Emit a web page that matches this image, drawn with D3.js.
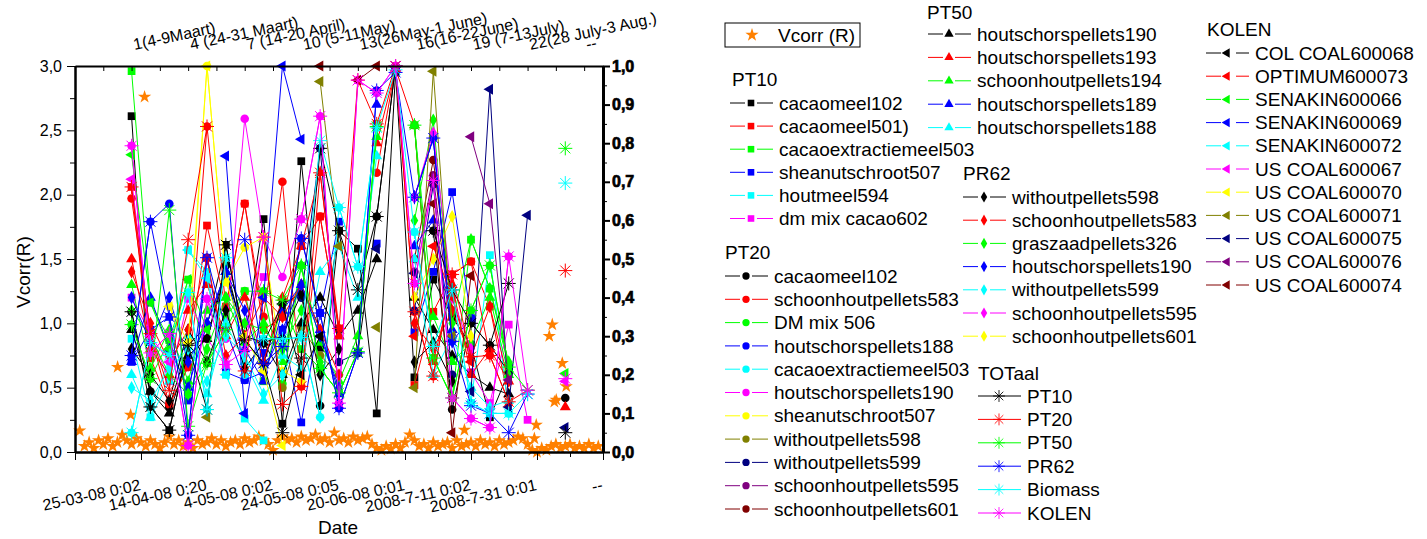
<!DOCTYPE html>
<html lang="en">
<head>
<meta charset="UTF-8">
<title>Vcorr(R) per week</title>
<script src="https://d3js.org/d3.v7.min.js"></script>
<style>
    body { margin: 0; background: #fff; }
    svg text { font-family: "Liberation Sans", Arial, sans-serif; fill: #000; }
    .tick line { stroke: #000; }
    .domain { stroke: #000; }
</style>
</head>
<body>
<svg width="1427" height="539"></svg>
<script>
const _ = null;

// x categories: week numbers (top axis) and date ticks (bottom axis)
const weeks = [1,2,3,4,5,6,7,8,9,10,11,12,13,14,15,16,17,18,19,20,21,22,23,24];
const weekTicks = [-2,-0.5,1,2.5,4,5.5,7,8.5,10,11.5,13,14.5,16,17.5,19,20.5,22,23.5,25];
const weekLabelAt = [1,4,7,10,13,16,19,22,25];
const weekLabels = ["1(4-9Maart)","4 (24-31 Maart)","7 (14-20 April)","10 (5-11May)","13(26May-1 June)",
    "16(16-22June)","19 (7-13July)","22(28 July-3 Aug.)","--"];
const dateMajor = [0,2,4,6,8,10,12,14,16];
const dateLabels = ["","25-03-08 0:02","14-04-08 0:20","4-05-08 0:02","24-05-08 0:05","20-06-08 0:01",
    "2008-7-11 0:02","2008-7-31 0:01","--"];
const dateMinor = [1,3,5,7,9,11,13,15];
const leftTicks = [0,0.5,1,1.5,2,2.5,3];
const rightTicks = [0,0.1,0.2,0.3,0.4,0.5,0.6,0.7,0.8,0.9,1];

// Vcorr (R) on the right axis: [week, value]
const vcorr = [
    [-1.75,0.055],[-1.5,0.015],[-1.25,0.025],[-1,0.01],[-0.75,0.03],[-0.5,0.02],[-0.25,0.035],[0,0.015],
    [0.25,0.025],[0.26,0.22],[0.5,0.044],[0.75,0.03],[0.95,0.096],[1,0.02],[1.25,0.035],[1.5,0.025],[1.69,0.92],
    [1.75,0.015],[2,0.03],[2.25,0.02],[2.5,0.01],[2.75,0.025],[3,0.04],[3.25,0.02],[3.5,0.03],[3.75,0.015],
    [4,0.025],[4.25,0.01],[4.5,0.03],[4.75,0.02],[5,0.025],[5.25,0.035],[5.5,0.02],[5.75,0.03],[6,0.015],
    [6.25,0.025],[6.5,0.03],[6.75,0.02],[7,0.035],[7.25,0.025],[7.5,0.03],[7.75,0.04],[8,0.03],[8.25,0.02],
    [8.5,0.005],[8.75,0.03],[9,0.04],[9.25,0.03],[9.5,0.035],[9.75,0.025],[10,0.04],[10.25,0.03],[10.5,0.035],
    [10.75,0.045],[11,0.03],[11.25,0.035],[11.5,0.025],[11.75,0.05],[12,0.03],[12.25,0.035],[12.5,0.025],
    [12.75,0.04],[13,0.03],[13.25,0.035],[13.5,0.04],[13.75,0.02],[14,0.01],[14.25,0.005],[14.5,0.015],
    [14.75,0.008],[15,0.02],[15.25,0.01],[15.5,0.025],[15.75,0.045],[16,0.03],[16.25,0.015],[16.5,0.02],
    [16.75,0.01],[17,0.025],[17.25,0.015],[17.5,0.02],[17.75,0.025],[18,0.01],[18.25,0.03],[18.5,0.015],
    [18.65,0.057],[18.75,0.02],[19,0.025],[19.25,0.015],[19.5,0.03],[19.75,0.02],[20,0.025],[20.25,0.015],
    [20.5,0.03],[20.75,0.02],[21,0.025],[21.25,0.03],[21.5,0.04],[21.75,0.035],[22,0.02],[22.25,0.005],
    [22.36,0.035],[22.46,0.07],[22.5,0],[22.75,0.01],[23,0.005],[23.15,0.3],[23.31,0.33],[23.42,0.13],
    [23.52,0.135],[23.84,0.23],[24.05,0.17],[23.25,0.015],[23.5,0.02],[23.75,0.01],[24,0.015],[24.25,0.02],
    [24.5,0.01],[24.75,0.015],[25,0.01],[25.25,0.02],[25.5,0.01],[25.75,0.015]
];

// PT10 (squares)
const pt10Names = ["cacaomeel102","cacaomeel501)","cacaoextractiemeel503","sheanutschroot507","houtmeel594","dm mix cacao602"];
const pt10Colors = ["#000000","#FF0000","#00FF00","#0000FF","#00FFFF","#FF00FF"];
const pt10Data = [
    [2.61,0.35,0.17,0.83,0.98,1.61,0.87,1.81,0.22,2.26,0.81,1.72,1.58,0.30,2.95,0.58,1.34,1.05,0.83,0.27,0.62,_,_,_],
    [2.06,0.73,0.37,0.66,1.76,1.13,1.93,0.95,1.05,1.60,1.83,0.96,_,2.55,_,0.52,1.09,1.38,1.48,1.13,0.39,_,_,_],
    [2.96,1.16,0.87,1.34,0.69,1.05,1.25,0.55,1.18,0.80,0.65,0.46,0.78,2.53,_,2.54,0.73,0.42,1.65,1.27,0.66,_,_,_],
    [0.70,0.95,1.05,0.40,1.51,0.62,0.56,0.77,0.95,0.23,1.08,1.79,_,1.62,_,0.93,1.40,2.02,1.04,_,_,_,_,_],
    [0.88,0.27,0.75,1.57,1.40,0.60,0.26,0.09,_,_,_,_,_,_,_,_,_,_,0.38,1.53,0.30,_,_,_],
    [1.20,0.92,0.55,1.19,0.88,0.68,1.00,1.36,_,_,_,_,_,_,_,_,_,_,0.62,0.38,0.99,0.25,_,_]
];

// PT20 (circles)
const pt20Names = ["cacaomeel102","schoonhoutpellets583","DM mix 506","houtschorspellets188","cacaoextractiemeel503",
    "houtschorspellets190","sheanutschroot507","withoutpellets598","withoutpellets599","schoonhoutpellets595","schoonhoutpellets601"];
const pt20Colors = ["#000000","#FF0000","#00FF00","#0000FF","#00FFFF","#FF00FF","#FFFF00","#808000","#000080","#800080","#800000"];
const pt20Data = [
    [1.09,0.47,0.35,0.83,0.88,1.45,0.87,0.69,1.15,1.23,0.36,1.72,0.77,1.83,3.00,_,1.72,0.33,1.00,0.83,0.62,_,_,0.42],
    [1.97,0.92,0.37,0.66,2.53,1.13,1.93,1.05,2.10,0.51,1.83,0.96,_,2.17,3.00,1.09,0.59,1.38,1.48,0.75,0.39,_,_,_],
    [0.99,0.57,0.87,0.45,0.69,0.95,1.25,1.25,0.53,1.45,0.65,0.46,0.78,2.53,_,2.54,0.73,0.42,1.10,1.45,0.66,_,_,_],
    [0.75,1.79,1.93,0.13,1.51,0.95,0.56,0.62,0.82,1.66,1.08,0.34,0.77,2.81,_,1.98,2.44,0.86,1.04,_,_,_,_,_],
    [0.15,0.85,0.75,1.24,0.33,1.51,0.60,0.88,0.88,0.89,0.27,1.90,1.44,2.52,_,1.71,0.82,1.26,0.38,0.30,0.30,_,_,_],
    [2.38,0.77,0.92,0.05,1.19,0.88,2.59,1.67,1.36,1.81,2.61,0.38,2.89,2.79,3.00,1.31,2.11,0.42,0.26,0.19,1.52,_,_,_],
    [_,_,1.13,0.75,3.00,1.32,1.59,1.67,0.63,0.55,_,_,_,_,_,_,_,_,_,_,_,_,_,_],
    [_,_,_,_,_,_,_,_,0.50,0.97,0.75,0.60,_,_,_,_,_,_,_,_,_,_,_,_],
    [_,_,_,_,_,_,_,_,_,1.20,2.36,0.70,0.77,_,_,1.10,2.08,0.60,_,_,_,_,_,_],
    [_,_,_,_,_,_,_,_,_,_,_,_,_,_,_,1.40,2.15,0.90,_,_,_,_,_,_],
    [_,_,_,_,_,_,_,_,_,_,_,_,_,_,_,1.50,2.27,1.10,_,_,_,_,_,_]
];

// PT50 (triangles)
const pt50Names = ["houtschorspellets190","houtschorspellets193","schoonhoutpellets194","houtschorspellets189","houtschorspellets188"];
const pt50Colors = ["#000000","#FF0000","#00FF00","#0000FF","#00FFFF"];
const pt50Data = [
    [0.95,0.47,0.30,0.75,0.88,1.40,0.90,0.85,0.60,1.00,1.20,0.90,1.10,1.50,_,1.20,0.95,0.75,0.60,0.50,0.45,_,_,_],
    [1.50,0.80,0.60,1.10,1.30,0.90,1.20,0.70,1.20,1.60,2.17,0.90,_,2.40,2.98,2.54,0.70,1.30,0.60,0.80,0.55,_,_,0.35],
    [1.30,0.65,0.95,0.55,1.10,1.20,0.85,1.00,0.70,1.45,0.85,0.55,0.90,2.45,_,2.54,1.05,0.70,0.85,1.20,0.60,_,_,_],
    [0.70,1.20,0.80,0.50,1.00,1.40,0.80,0.55,1.10,1.30,0.95,0.45,_,2.70,_,1.60,1.80,0.95,_,_,_,_,_,_],
    [0.60,0.27,0.55,0.90,0.45,1.00,0.70,0.40,0.75,0.65,1.40,1.60,1.20,2.30,_,1.50,0.60,0.90,0.50,0.35,0.40,_,_,_]
];

// PR62 (diamonds)
const pr62Names = ["withoutpellets598","schoonhoutpellets583","graszaadpellets326","houtschorspellets190",
    "withoutpellets599","schoonhoutpellets595","schoonhoutpellets601"];
const pr62Colors = ["#000000","#FF0000","#00FF00","#0000FF","#00FFFF","#FF00FF","#FFFF00"];
const pr62Data = [
    [0.80,0.60,0.40,0.95,0.70,1.10,0.65,0.85,0.90,1.23,0.60,0.80,_,_,_,0.70,0.85,0.55,_,_,_,_,_,_],
    [1.40,1.00,0.70,0.95,1.50,0.75,0.90,1.20,1.05,1.30,0.95,0.60,_,_,_,1.00,0.80,1.10,0.74,1.13,0.55,_,_,_],
    [1.10,0.90,0.60,0.45,0.80,1.20,1.00,0.95,0.80,1.10,0.70,_,_,_,_,1.80,2.58,1.00,1.65,1.27,0.70,_,_,_],
    [1.20,0.85,1.20,0.70,1.00,1.40,1.10,0.62,0.95,1.30,0.90,0.50,_,_,_,1.98,2.44,0.86,_,_,_,_,_,_],
    [0.50,0.40,0.65,0.80,0.55,0.90,0.75,0.45,0.60,0.90,0.27,_,_,_,_,_,_,_,_,_,_,_,_,_],
    [_,_,_,_,_,_,_,_,_,_,_,_,_,_,_,1.98,2.48,1.20,0.80,_,_,_,_,_],
    [_,_,_,_,_,_,_,_,_,_,_,_,_,_,_,1.20,1.50,1.83,0.90,_,_,_,_,_]
];

// TOTaal (asterisks)
const totNames = ["PT10","PT20","PT50","PR62","Biomass","KOLEN"];
const totColors = ["#000000","#FF0000","#00FF00","#0000FF","#00FFFF","#FF00FF"];
const totData = [
    [1.09,0.35,0.17,0.83,0.33,1.61,0.87,0.69,0.15,0.73,2.36,1.72,1.26,1.83,3.00,_,1.72,1.26,1.00,0.83,1.31,_,_,0.15],
    [2.06,0.92,0.48,1.65,2.53,_,0.63,1.67,0.37,0.51,2.17,0.96,2.89,2.55,3.00,1.09,0.59,1.38,0.74,0.75,0.39,0.48,_,1.41],
    [0.99,0.57,1.88,0.20,0.69,0.95,_,1.25,1.18,1.45,0.65,0.46,0.78,2.53,_,2.54,0.73,0.42,1.10,1.45,0.66,0.48,_,2.36],
    [0.75,1.79,1.05,0.13,1.51,_,1.65,0.69,0.82,1.66,1.08,0.34,0.77,2.81,2.95,1.98,2.44,0.86,0.36,0.30,0.15,0.45,_,_],
    [0.15,0.85,0.75,1.24,0.33,1.51,_,0.88,0.88,0.89,2.42,1.90,1.44,2.52,2.97,1.71,0.82,1.26,0.38,0.30,0.30,0.45,_,2.09],
    [2.38,0.77,0.92,0.05,1.19,0.68,0.79,1.67,_,1.81,2.61,0.38,2.89,2.79,3.00,1.31,2.11,0.42,0.26,0.19,1.52,0.48,_,0.57]
];

// KOLEN (left triangles)
const kolNames = ["COL COAL600068","OPTIMUM600073","SENAKIN600066","SENAKIN600069","SENAKIN600072","US COAL600067",
    "US COAL600070","US COAL600071","US COAL600075","US COAL600076","US COAL600074"];
const kolColors = ["#000000","#FF0000","#00FF00","#0000FF","#00FFFF","#FF00FF","#FFFF00","#808000","#000080","#800080","#800000"];
const kolData = [
    [_,_,_,_,_,_,_,0.85,1.15,0.60,0.90,_,_,_,_,_,_,_,_,_,_,_,_,_],
    [_,_,_,_,_,_,_,_,_,_,_,_,_,_,_,0.90,1.60,1.20,0.70,_,_,_,_,_],
    [2.31,1.16,0.80,1.34,0.95,_,_,_,_,_,_,_,_,_,_,_,_,_,_,_,_,_,_,0.61],
    [_,_,_,_,_,2.30,0.30,1.20,3.00,2.43,_,_,_,_,_,_,_,_,_,_,_,_,_,_],
    [_,_,_,1.57,1.35,0.60,_,_,_,_,_,_,_,_,_,_,_,_,_,_,_,_,_,_],
    [2.12,0.90,0.70,_,_,_,_,_,_,_,_,_,_,_,_,_,_,_,_,_,_,_,_,0.55],
    [_,_,1.13,0.85,3.00,1.32,0.90,0.63,0.05,_,_,_,_,_,_,_,_,_,_,_,_,_,_,_],
    [_,_,_,_,0.27,_,_,_,_,_,2.88,1.60,_,0.97,_,0.50,2.96,0.90,_,_,_,_,_,_],
    [_,_,_,_,_,_,_,_,_,_,_,_,_,1.58,_,1.39,_,_,0.47,2.82,0.35,1.84,_,0.19],
    [_,_,_,_,_,_,_,_,_,_,_,_,_,_,_,_,_,_,2.45,1.93,0.56,_,_,_],
    [_,_,_,_,_,_,_,_,_,_,3.00,_,2.89,3.00,_,_,1.93,0.15,1.37,_,_,_,_,_]
];

const svg = d3.select("svg");
const xTop = d3.scaleLinear().domain([-2, 26]).range([75, 603]);
const xBot = d3.scaleLinear().domain([0, 16]).range([75, 603]);
const yL = d3.scaleLinear().domain([0, 3]).range([452, 66]);
const yR = d3.scaleLinear().domain([0, 1]).range([452, 66]);
const comma = d => d3.format(".1f")(d).replace(".", ",");

// symbols
const symSquare = d3.symbol(d3.symbolSquare, 60)();
const symCircle = d3.symbol(d3.symbolCircle, 58)();
const symTri = d3.symbol(d3.symbolTriangle, 52)();
const symDiamond = d3.symbol(d3.symbolDiamond, 50)();
const symStar = d3.symbol(d3.symbolStar, 55)();
const asterisk = s => `M${-s},0H${s}M0,${-s}V${s}M${-s*0.72},${-s*0.72}L${s*0.72},${s*0.72}M${-s*0.72},${s*0.72}L${s*0.72},${-s*0.72}`;

function marker(sel, shape, color) {
    if (shape === "ast") {
        sel.attr("d", asterisk(7)).attr("fill", "none").attr("stroke", color).attr("stroke-width", 1);
    } else {
        const p = {sq: symSquare, ci: symCircle, tr: symTri, lt: symTri, di: symDiamond}[shape];
        sel.attr("d", p).attr("fill", color).attr("stroke", "none");
    }
}
function rot(shape) { return shape === "lt" ? " rotate(-90)" : ""; }

const plot = svg.append("g");

// Vcorr first (underneath)
plot.selectAll(".vc").data(vcorr).join("path")
    .attr("class", "vc")
    .attr("transform", d => `translate(${xTop(d[0])},${yR(d[1])})`)
    .attr("d", symStar).attr("fill", "#FF8000");

function drawSeries(vals, color, shape) {
    const pts = weeks.map((w, i) => ({w: w, v: vals[i]}));
    const line = d3.line().defined(d => d.v !== null).x(d => xTop(d.w)).y(d => yL(d.v));
    plot.append("path").datum(pts).attr("d", line)
        .attr("fill", "none").attr("stroke", color).attr("stroke-width", 1);
    plot.append("g").selectAll("path").data(pts.filter(d => d.v !== null)).join("path")
        .attr("transform", d => `translate(${xTop(d.w)},${yL(d.v)})` + rot(shape))
        .call(marker, shape, color);
}

const groups = [
    {data: pt10Data, colors: pt10Colors, shape: "sq"},
    {data: pt20Data, colors: pt20Colors, shape: "ci"},
    {data: pt50Data, colors: pt50Colors, shape: "tr"},
    {data: pr62Data, colors: pr62Colors, shape: "di"},
    {data: kolData, colors: kolColors, shape: "lt"},
    {data: totData, colors: totColors, shape: "ast"}
];
groups.forEach(g => g.data.forEach((vals, i) => drawSeries(vals, g.colors[i], g.shape)));

// axes
const axisStyle = (g, w) => {
    g.select(".domain").attr("stroke-width", w);
    g.selectAll("text").attr("font-size", 16).attr("fill", "#000");
};
svg.append("g").attr("transform", "translate(0,452)")
    .call(d3.axisBottom(xBot).tickValues(dateMinor).tickSize(5).tickSizeOuter(0).tickFormat(""))
    .call(axisStyle, 2);
const botAxis = svg.append("g").attr("transform", "translate(0,452)")
    .call(d3.axisBottom(xBot).tickValues(dateMajor).tickSize(8).tickSizeOuter(0)
        .tickFormat((d, i) => dateLabels[i]))
    .call(axisStyle, 2);
botAxis.selectAll("text").attr("x", 0).attr("y", 0).attr("dy", 0)
    .attr("text-anchor", "end").attr("transform", "translate(0,38) rotate(-12)");

svg.append("g").attr("transform", "translate(0,66)")
    .call(d3.axisTop(xTop).tickValues(weekTicks).tickSize(-5).tickSizeOuter(0).tickFormat(""))
    .call(axisStyle, 2);
svg.append("g").selectAll("text").data(weekLabelAt).join("text")
    .attr("text-anchor", "start").attr("font-size", 16)
    .attr("transform", d => `translate(${xTop(d) + 3},50) rotate(-12)`)
    .text((d, i) => weekLabels[i]);

svg.append("g").attr("transform", "translate(75,0)")
    .call(d3.axisLeft(yL).tickValues([0.25,0.75,1.25,1.75,2.25,2.75]).tickSize(5).tickSizeOuter(0).tickFormat(""))
    .call(axisStyle, 2);
svg.append("g").attr("transform", "translate(75,0)")
    .call(d3.axisLeft(yL).tickValues(leftTicks).tickSize(8).tickPadding(5).tickSizeOuter(0).tickFormat(comma))
    .call(axisStyle, 2);

svg.append("g").attr("transform", "translate(603,0)")
    .call(d3.axisRight(yR).tickValues([0.05,0.15,0.25,0.35,0.45,0.55,0.65,0.75,0.85,0.95]).tickSize(4).tickSizeOuter(0).tickFormat(""))
    .call(axisStyle, 3);
const rightAxis = svg.append("g").attr("transform", "translate(603,0)")
    .call(d3.axisRight(yR).tickValues(rightTicks).tickSize(7).tickPadding(2).tickSizeOuter(0).tickFormat(comma))
    .call(axisStyle, 3);
rightAxis.selectAll(".tick line").attr("stroke-width", 2);
rightAxis.selectAll("text").attr("font-weight", "bold").attr("stroke", "#000").attr("stroke-width", 0.7);

// axis titles
svg.append("text").attr("x", 338).attr("y", 534).attr("text-anchor", "middle")
    .attr("font-size", 19).text("Date");
svg.append("text").attr("transform", "translate(30,272) rotate(-90)").attr("text-anchor", "middle")
    .attr("font-size", 19).text("Vcorr(R)");

// legend
const leg = svg.append("g").attr("font-size", 19);
leg.append("rect").attr("x", 725).attr("y", 23).attr("width", 135).attr("height", 24)
    .attr("fill", "none").attr("stroke", "#000").attr("stroke-width", 1);
leg.append("path").attr("transform", "translate(752,35)").attr("d", symStar).attr("fill", "#FF8000");
leg.append("text").attr("x", 778).attr("y", 35).attr("dy", "0.35em").text("Vcorr (R)");

const legendBlocks = [
    {title: "PT10", tx: 732, ty: 79, x0: 730, y0: 103, dy: 23.1, names: pt10Names, colors: pt10Colors, shape: "sq"},
    {title: "PT20", tx: 725, ty: 252, x0: 725, y0: 276, dy: 23.3, names: pt20Names, colors: pt20Colors, shape: "ci"},
    {title: "PT50", tx: 927, ty: 12, x0: 928, y0: 34, dy: 23.4, names: pt50Names, colors: pt50Colors, shape: "tr"},
    {title: "PR62", tx: 963, ty: 173, x0: 963, y0: 197, dy: 23.2, names: pr62Names, colors: pr62Colors, shape: "di"},
    {title: "TOTaal", tx: 978, ty: 373, x0: 978, y0: 396, dy: 23.4, names: totNames, colors: totColors, shape: "ast"},
    {title: "KOLEN", tx: 1207, ty: 29, x0: 1206, y0: 53, dy: 23.2, names: kolNames, colors: kolColors, shape: "lt"}
];
legendBlocks.forEach(b => {
    leg.append("text").attr("x", b.tx).attr("y", b.ty).attr("dy", "0.35em").text(b.title);
    b.names.forEach((n, i) => {
        const y = b.y0 + i * b.dy, c = b.colors[i], xm = b.x0 + 21, x1 = b.x0 + 43;
        if (b.shape === "ast") {
            leg.append("line").attr("x1", b.x0).attr("x2", x1).attr("y1", y).attr("y2", y).attr("stroke", c);
        } else {
            const gapR = b.shape === "lt" ? 9 : 6;
            leg.append("line").attr("x1", b.x0).attr("x2", xm - 6).attr("y1", y).attr("y2", y).attr("stroke", c);
            leg.append("line").attr("x1", xm + gapR).attr("x2", x1).attr("y1", y).attr("y2", y).attr("stroke", c);
        }
        leg.append("path").attr("transform", `translate(${xm},${y}) scale(0.85)` + rot(b.shape)).call(marker, b.shape, c);
        leg.append("text").attr("x", x1 + 6).attr("y", y).attr("dy", "0.35em").text(n);
    });
});
</script>
</body>
</html>
